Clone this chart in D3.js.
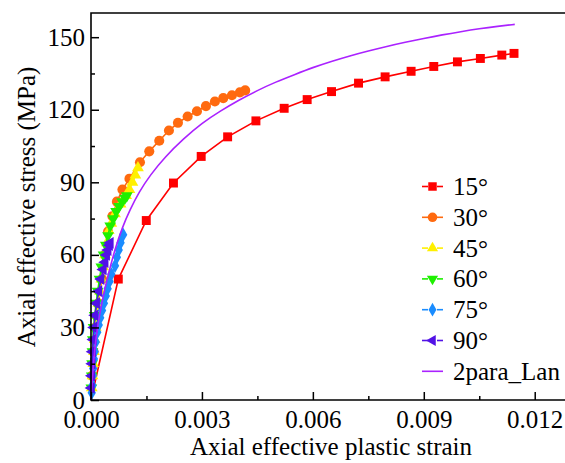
<!DOCTYPE html>
<html>
<head>
<meta charset="utf-8">
<script src="https://cdn.jsdelivr.net/npm/d3@7"></script>
<style>
  body { margin: 0; background: #fff; }
</style>
</head>
<body>
<div id="chart"></div>
<script>
// angle series: [plastic strain, stress MPa]
var s15 = [[0,0],[0.000738,50],[0.001495,74.2],[0.00223,89.7],[0.00298,100.7],
  [0.003695,108.8],[0.00446,115.4],[0.005224,120.6],[0.005846,124.2],[0.006505,127.5],[0.007235,131.0],
  [0.007954,133.6],[0.008657,135.9],[0.00927,137.9],[0.00991,139.8],[0.01053,141.2],[0.01111,142.6],[0.01144,143.3]];
var s30 = [[0,0],[0.00003,10],[0.00007,20],[0.00012,30],[0.0002,40],[0.0003,50],[0.00038,60],[0.00046,69.6],
  [0.00058,76],[0.0007,82],[0.00085,87],[0.00104,91.5],[0.001324,98.3],[0.001576,102.8],[0.001846,107.2],
  [0.002108,111.4],[0.002351,114.6],[0.002613,117.2],[0.002865,119.4],[0.003108,121.5],[0.003351,123.4],
  [0.003576,124.8],[0.003811,126.0],[0.004027,127.2],[0.00417,128.0]];
var s45 = [[0,0],[0.00002,5],[0.00004,10],[0.00006,15],[0.00008,20],[0.0001,25],[0.00013,30],[0.00016,35],
  [0.0002,40],[0.00024,45],[0.00028,50],[0.00033,55],[0.00038,60],[0.00043,65],[0.00048,70],[0.00055,73],
  [0.00065,77],[0.0008,81],[0.00095,84.5],[0.00104,87],[0.00112,90],[0.0012,93],[0.00127,96]];
var s60 = [[0,0],[0.00001,5],[0.00002,10],[0.00003,15],[0.00004,20],[0.00005,25],[0.00007,30],[0.0001,35],
  [0.00014,40],[0.00018,45],[0.00023,50],[0.00028,55],[0.00034,60],[0.0004,64],[0.00046,68],[0.00052,72],
  [0.0006,75],[0.00068,78],[0.00076,80],[0.00084,82],[0.00092,83.5],[0.00097,84.5]];
var s75 = [[0,0],[0.00002,3],[0.00004,6],[0.00005,10],[0.00006,13],[0.00008,17],[0.0001,20],[0.00013,24],
  [0.00017,28],[0.00021,31],[0.00025,34],[0.0003,37],[0.00035,40],[0.0004,43],[0.00045,46],[0.0005,49],
  [0.00055,52],[0.00065,55.5],[0.0007,59],[0.00075,62],[0.0008,65],[0.00087,68.3]];
var s90 = [[0,0],[0.00001,5],[0.00002,10],[0.00003,15],[0.00004,20],[0.00006,25],[0.00008,30],[0.00011,35],
  [0.00015,40],[0.00021,45],[0.00027,50],[0.00033,54],[0.00038,57],[0.00042,60],[0.00046,62],[0.0005,64],[0.00052,65]];
// fitted model curve
var lan = [[0,0],[0.00002,5],[0.00008,18],[0.00016,29],[0.0003,41],[0.00045,51],[0.00065,62.5],[0.00085,71.5],
  [0.00105,78.5],[0.0013,86],[0.0016,93],[0.002,100.5],[0.0025,108],[0.003,114.5],[0.0035,119.5],
  [0.004,124],[0.0045,128],[0.005,131.5],[0.0055,134.5],[0.006,137.5],[0.0065,140],[0.007,142.3],
  [0.0075,144.3],[0.008,146.2],[0.0085,147.9],[0.009,149.5],[0.0095,151],[0.01,152.3],[0.0105,153.5],
  [0.011,154.5],[0.01146,155.3]];

var xTicks = [0, 0.003, 0.006, 0.009, 0.012];
var yTicks = [0, 30, 60, 90, 120, 150];
var names = ["15°", "30°", "45°", "60°", "75°", "90°", "2para_Lan"];

var font = "'Liberation Serif', 'Times New Roman', 'DejaVu Serif', serif";
var width = 565, height = 463;
var svg = d3.select("#chart").append("svg")
    .attr("width", width).attr("height", height);

var x = d3.scaleLinear().domain([0, 0.0129]).range([91, 568]);
var y = d3.scaleLinear().domain([0, 160]).range([400, 13]);

var series = [
  {data: s15, color: "#ff0000", sym: d3.symbolSquare, size: 80, rot: 0},
  {data: s30, color: "#ff6a0f", sym: d3.symbolCircle, size: 80, rot: 0},
  {data: s45, color: "#fff000", sym: d3.symbolTriangle, size: 60, rot: 0},
  {data: s60, color: "#1ef000", sym: d3.symbolTriangle, size: 60, rot: 180},
  {data: s75, color: "#1a8cff", sym: d3.symbolDiamond, size: 60, rot: 0},
  {data: s90, color: "#5212e6", sym: d3.symbolTriangle, size: 60, rot: -90}
];

var line = d3.line().x(function(d) { return x(d[0]); }).y(function(d) { return y(d[1]); });

series.forEach(function(s) {
  svg.append("path").datum(s.data)
    .attr("d", line).attr("fill", "none")
    .attr("stroke", s.color).attr("stroke-width", 1.6);
  svg.append("g").selectAll("path").data(s.data.slice(1)).enter().append("path")
    .attr("d", d3.symbol().type(s.sym).size(s.size))
    .attr("transform", function(d) { return "translate(" + x(d[0]) + "," + y(d[1]) + ") rotate(" + s.rot + ")"; })
    .attr("fill", s.color);
});

svg.append("path").datum(lan)
  .attr("d", line.curve(d3.curveBasis)).attr("fill", "none")
  .attr("stroke", "#aa22ff").attr("stroke-width", 1.6);

// axes
var xMinor = d3.range(0.0015, 0.0129, 0.003);
var yMinor = d3.range(15, 160, 30);

svg.append("g").attr("transform", "translate(0,400)")
  .call(d3.axisBottom(x).tickValues(xMinor).tickSizeInner(-4).tickSizeOuter(0).tickFormat(""))
  .call(function(g) { g.select(".domain").remove(); });
var gx = svg.append("g").attr("transform", "translate(0,400)")
  .call(d3.axisBottom(x).tickValues(xTicks).tickSizeInner(-8).tickSizeOuter(0).tickPadding(10).tickFormat(d3.format(".3f")));
gx.select(".domain").remove();

svg.append("g").attr("transform", "translate(91,0)")
  .call(d3.axisLeft(y).tickValues(yMinor).tickSizeInner(-4).tickSizeOuter(0).tickFormat(""))
  .call(function(g) { g.select(".domain").remove(); });
var gy = svg.append("g").attr("transform", "translate(91,0)")
  .call(d3.axisLeft(y).tickValues(yTicks).tickSizeInner(-8).tickSizeOuter(0).tickPadding(6));
gy.select(".domain").remove();

svg.selectAll("g").attr("font-family", font);
svg.selectAll(".tick line").attr("stroke", "#000").attr("stroke-width", 1.5);
svg.selectAll(".tick text").attr("font-size", 25).style("font-family", font);

// frame
svg.append("path").attr("d", "M568,13H91V400H568")
  .attr("fill", "none").attr("stroke", "#000").attr("stroke-width", 1.6);

svg.append("text").attr("x", 331).attr("y", 455).attr("text-anchor", "middle")
  .style("font-family", font).style("font-size", "25px").text("Axial effective plastic strain");
svg.append("text").attr("transform", "translate(35,207) rotate(-90)").attr("text-anchor", "middle")
  .style("font-family", font).style("font-size", "25px").text("Axial effective stress (MPa)");

// legend
var leg = svg.append("g");
names.forEach(function(n, i) {
  var ly = 186.5 + i * 30.8;
  var col = i < 6 ? series[i].color : "#aa22ff";
  if (i < 6) {
    leg.append("line").attr("x1", 422).attr("x2", 428).attr("y1", ly).attr("y2", ly)
      .attr("stroke", col).attr("stroke-width", 1.6);
    leg.append("line").attr("x1", 437).attr("x2", 443).attr("y1", ly).attr("y2", ly)
      .attr("stroke", col).attr("stroke-width", 1.6);
    leg.append("path").attr("d", d3.symbol().type(series[i].sym).size(series[i].size * 0.9))
      .attr("transform", "translate(432.5," + ly + ") rotate(" + series[i].rot + ")")
      .attr("fill", col);
  } else {
    leg.append("line").attr("x1", 422).attr("x2", 443).attr("y1", ly).attr("y2", ly)
      .attr("stroke", col).attr("stroke-width", 1.6);
  }
  leg.append("text").attr("x", 453).attr("y", ly + 8.5)
    .style("font-family", font).style("font-size", "25px").text(n);
});
</script>
</body>
</html>
